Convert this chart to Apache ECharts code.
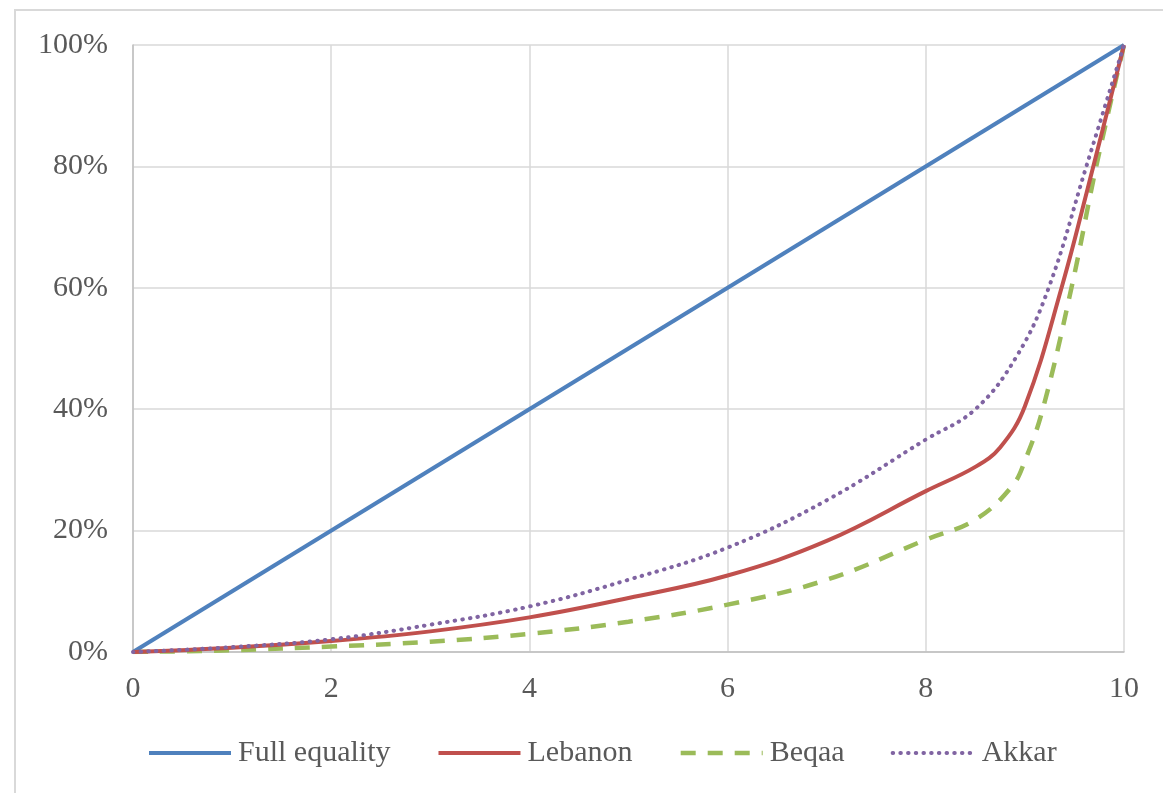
<!DOCTYPE html>
<html>
<head>
<meta charset="utf-8">
<script src="https://cdn.jsdelivr.net/npm/echarts@6/dist/echarts.min.js"></script>
<style>
html,body{margin:0;padding:0;background:#fff;}
#chart{width:1163px;height:793px;}
</style>
</head>
<body>
<div id="chart"></div>
<script>
// Data (x = decile position 0..10, y = cumulative share in %)
const seriesNames = ["Full equality", "Lebanon", "Beqaa", "Akkar"];
const xTicks = [0, 2, 4, 6, 8, 10];
const yTicks = [0, 20, 40, 60, 80, 100];

const fullEqualityX = [0, 10];
const fullEqualityY = [0, 100];

const lebanonX = [0, 1, 2, 3, 4, 5, 6, 7, 8, 8.5, 8.75, 9, 9.37, 9.69, 10];
const lebanonY = [0, 0.7, 1.8, 3.4, 5.7, 8.9, 12.6, 18.3, 26.5, 30.5, 33.7, 40.5, 60, 80, 100];

const beqaaX = [0, 1, 2, 3, 4, 5, 6, 7, 8, 8.5, 8.87, 9, 9.18, 9.47, 9.72, 10];
const beqaaY = [0, 0.3, 0.9, 1.7, 3.0, 5.0, 7.8, 11.9, 18.5, 21.8, 27.3, 31.5, 40, 60, 80, 100];

const akkarX = [0, 1, 2, 3, 4, 5, 6, 7, 8, 8.5, 8.92, 9.24, 9.62, 10];
const akkarY = [0, 0.8, 2.1, 4.5, 7.5, 11.9, 17.2, 25, 35, 40, 48.8, 60, 80, 100];

function pairs(xs, ys) { return xs.map((x, i) => [x, ys[i]]); }

const FONT = "'Liberation Serif', 'DejaVu Serif', serif";
const TXT = "#595959";
const COLORS = ['#4f81bd', '#c0504d', '#9bbb59', '#8064a2'];
const LINES = [
  {color: COLORS[0], width: 4, type: 'solid', cap: 'butt'},
  {color: COLORS[1], width: 4, type: 'solid', cap: 'butt'},
  {color: COLORS[2], width: 4.5, type: [15, 12], cap: 'butt'},
  {color: COLORS[3], width: 4, type: [0.5, 7.2], cap: 'round'}
];

const chart = echarts.init(document.getElementById('chart'), null, {renderer: 'canvas'});
chart.setOption({
  animation: false,
  backgroundColor: '#ffffff',
  graphic: [{
    type: 'rect',
    shape: {x: 15, y: 10, width: 1300, height: 900},
    style: {fill: 'none', stroke: '#d9d9d9', lineWidth: 2},
    silent: true, z: -10
  }],
  grid: {left: 133, right: 39, top: 45, bottom: 141, containLabel: false},
  xAxis: {
    type: 'value', min: 0, max: 10, interval: 2,
    axisLine: {show: true, lineStyle: {color: '#bfbfbf', width: 1.5}},
    axisTick: {show: false},
    splitLine: {show: true, lineStyle: {color: '#d9d9d9', width: 1.5}},
    axisLabel: {fontFamily: FONT, fontSize: 30, color: TXT, margin: 22,
      formatter: v => xTicks.includes(v) ? String(v) : ''}
  },
  yAxis: {
    type: 'value', min: 0, max: 100, interval: 20,
    axisLine: {show: true, lineStyle: {color: '#bfbfbf', width: 1.5}},
    axisTick: {show: false},
    splitLine: {show: true, lineStyle: {color: '#d9d9d9', width: 1.5}},
    axisLabel: {fontFamily: FONT, fontSize: 30, color: TXT, margin: 25,
      formatter: v => yTicks.includes(v) ? v + '%' : ''}
  },
  legend: {
    left: 147, top: 738, padding: 0,
    itemWidth: 82, itemHeight: 14, itemGap: 46,
    textStyle: {fontFamily: FONT, fontSize: 30, color: TXT, padding: [0, 0, 0, 2]},
    itemStyle: {opacity: 0},
    data: seriesNames.map((n, i) => ({name: n, itemStyle: {opacity: 0}, lineStyle: LINES[i]}))
  },
  series: [
    {name: seriesNames[0], type: 'line', symbol: 'none', smooth: false,
      data: pairs(fullEqualityX, fullEqualityY),
      lineStyle: LINES[0], itemStyle: {color: COLORS[0]}, z: 3},
    {name: seriesNames[1], type: 'line', symbol: 'none', smooth: 0.4,
      data: pairs(lebanonX, lebanonY),
      lineStyle: LINES[1], itemStyle: {color: COLORS[1]}, z: 4},
    {name: seriesNames[2], type: 'line', symbol: 'none', smooth: 0.4,
      data: pairs(beqaaX, beqaaY),
      lineStyle: LINES[2], itemStyle: {color: COLORS[2]}, z: 2},
    {name: seriesNames[3], type: 'line', symbol: 'none', smooth: 0.4,
      data: pairs(akkarX, akkarY),
      lineStyle: LINES[3], itemStyle: {color: COLORS[3]}, z: 5}
  ]
});
</script>
</body>
</html>
